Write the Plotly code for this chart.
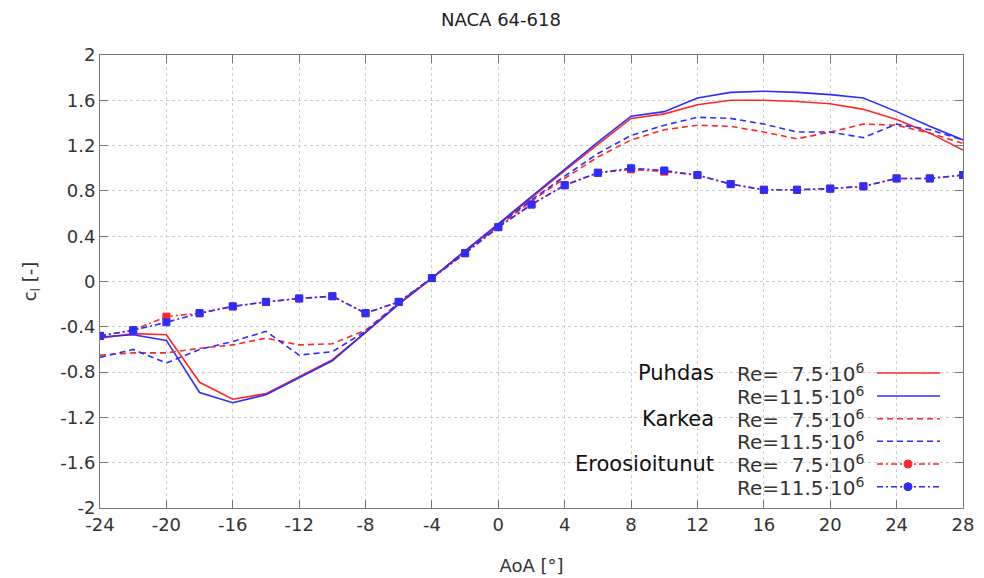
import plotly.graph_objects as go

AOA = [-24, -22, -20, -18, -16, -14, -12, -10, -8, -6, -4, -2, 0, 2, 4, 6, 8,
       10, 12, 14, 16, 18, 20, 22, 24, 26, 28]

clean_75 = [-0.50, -0.46, -0.47, -0.89, -1.04, -0.99, -0.84, -0.69, -0.45, -0.20, 0.03, 0.27, 0.50,
            0.74, 0.98, 1.21, 1.44, 1.48, 1.56, 1.60, 1.60, 1.59, 1.57, 1.52, 1.43, 1.31, 1.16]
clean_115 = [-0.49, -0.47, -0.52, -0.98, -1.07, -1.00, -0.85, -0.70, -0.45, -0.20, 0.03, 0.27, 0.51,
             0.75, 0.99, 1.23, 1.46, 1.50, 1.62, 1.67, 1.68, 1.67, 1.65, 1.62, 1.50, 1.37, 1.25]
rough_75 = [-0.65, -0.63, -0.63, -0.59, -0.56, -0.50, -0.56, -0.55, -0.43, -0.19, 0.03, 0.26, 0.49,
            0.71, 0.91, 1.10, 1.25, 1.34, 1.38, 1.37, 1.32, 1.26, 1.32, 1.39, 1.38, 1.31, 1.22]
rough_115 = [-0.67, -0.60, -0.72, -0.60, -0.53, -0.44, -0.65, -0.62, -0.44, -0.19, 0.03, 0.27, 0.50,
             0.72, 0.93, 1.13, 1.29, 1.38, 1.45, 1.44, 1.39, 1.32, 1.32, 1.27, 1.39, 1.34, 1.25]
eroded_75 = [-0.48, -0.43, -0.31, -0.28, -0.22, -0.18, -0.15, -0.13, -0.28, -0.18, 0.03, 0.25, 0.48,
             0.68, 0.85, 0.96, 0.99, 0.97, 0.94, 0.86, 0.81, 0.81, 0.82, 0.84, 0.91, 0.91, 0.94]
eroded_115 = [-0.48, -0.43, -0.36, -0.28, -0.22, -0.18, -0.15, -0.13, -0.28, -0.18, 0.03, 0.25, 0.48,
              0.68, 0.85, 0.96, 1.00, 0.98, 0.94, 0.86, 0.81, 0.81, 0.82, 0.84, 0.91, 0.91, 0.94]

x_ticks = [-24, -20, -16, -12, -8, -4, 0, 4, 8, 12, 16, 20, 24, 28]
y_ticks = [-2, -1.6, -1.2, -0.8, -0.4, 0, 0.4, 0.8, 1.2, 1.6, 2]
y_ticktext = ["-2", "-1.6", "-1.2", "-0.8", "-0.4", "0", "0.4", "0.8", "1.2", "1.6", "2"]
x_ticktext = [str(v) for v in x_ticks]

groups = ["Puhdas", "Karkea", "Eroosioitunut"]
re_labels = ["Re=\u00a0\u00a07.5\u00b710<sup>6</sup>", "Re=11.5\u00b710<sup>6</sup>"]

RED = "rgb(255,40,40)"
BLUE = "rgb(45,45,255)"
FONT = "DejaVu Sans"
DASH = "6px,4px"
DASHDOT = "6px,3px,2px,3px"

series = [
    (clean_75, RED, "solid", False),
    (clean_115, BLUE, "solid", False),
    (rough_75, RED, DASH, False),
    (rough_115, BLUE, DASH, False),
    (eroded_75, RED, DASHDOT, True),
    (eroded_115, BLUE, DASHDOT, True),
]

fig = go.Figure()
for vals, col, dash, mk in series:
    fig.add_trace(go.Scatter(
        x=AOA, y=vals, mode="lines+markers" if mk else "lines",
        line=dict(color=col, width=1.6, dash=dash),
        marker=dict(symbol="square", size=7, color=col, line=dict(color=col, width=1)),
        showlegend=False, hoverinfo="skip"))

# plot area in pixels
L, R, T, B = 100, 963, 55, 508
W, H = R - L, B - T


def fx(px):
    return (px - L) / W


def fy(py):
    return (B - py) / H


shapes = []
annotations = []
row_y = [373, 396, 418.7, 441.3, 464, 486.7]
for i, (vals, col, dash, mk) in enumerate(series):
    py = row_y[i]
    if i % 2 == 0:
        annotations.append(dict(
            x=fx(716), y=fy(py), xref="paper", yref="paper", text=groups[i // 2],
            showarrow=False, xanchor="right", yanchor="middle",
            font=dict(family=FONT, size=21, color="#111")))
    annotations.append(dict(
        x=fx(735), y=fy(py), xref="paper", yref="paper", text=re_labels[i % 2],
        showarrow=False, xanchor="left", yanchor="middle",
        font=dict(family=FONT, size=20, color="#333")))
    shapes.append(dict(type="line", xref="paper", yref="paper",
                       x0=fx(877), x1=fx(940), y0=fy(py), y1=fy(py),
                       line=dict(color=col, width=1.6, dash=dash)))
    if mk:
        r = 4
        shapes.append(dict(type="circle", xref="paper", yref="paper",
                           x0=fx(908 - r), x1=fx(908 + r), y0=fy(py - r), y1=fy(py + r),
                           fillcolor=col, line=dict(color=col, width=1)))

axis_common = dict(
    showline=True, linecolor="#777", linewidth=1, mirror="allticks",
    ticks="inside", ticklen=8, tickcolor="#777", tickwidth=1,
    showgrid=True, gridcolor="#cfcfcf", griddash="3px,3px", gridwidth=1,
    zeroline=False, tickfont=dict(family=FONT, size=18, color="#333"),
    automargin=False,
)

fig.update_layout(
    width=984, height=578,
    margin=dict(l=L, r=984 - R, t=T, b=578 - B),
    paper_bgcolor="white", plot_bgcolor="white",
    title=dict(text="NACA 64-618", x=501 / 984, xref="container", xanchor="center",
               y=1 - 20 / 578, yref="container", yanchor="middle",
               font=dict(family=FONT, size=18, color="#222")),
    xaxis=dict(range=[-24, 28], tickvals=x_ticks, ticktext=x_ticktext,
               title=dict(text="AoA [°]", font=dict(family=FONT, size=18, color="#333"), standoff=25),
               **axis_common),
    yaxis=dict(range=[-2, 2], tickvals=y_ticks, ticktext=y_ticktext,
               title=dict(text="c<sub>l</sub> [-]", font=dict(family=FONT, size=18, color="#333"), standoff=18),
               **axis_common),
    shapes=shapes,
    annotations=annotations,
    showlegend=False,
)

fig.write_html("out.html")
